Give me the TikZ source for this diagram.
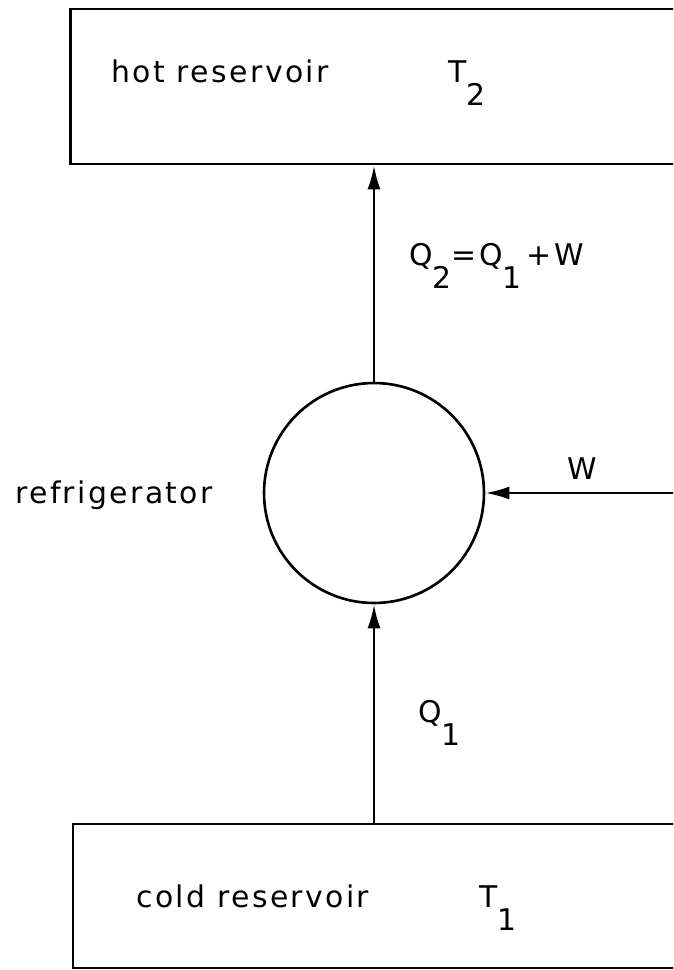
\documentclass[tikz,border=0pt]{standalone}
\usepackage{fontspec}
\setmainfont{DejaVu Sans}[LetterSpace=8]
\usetikzlibrary{arrows.meta,positioning}
% subscripts drawn full size, dropped below the line
\newcommand{\lowsub}[1]{\raisebox{-0.78em}{#1}}

\begin{document}
\begin{tikzpicture}[x=0.02cm, y=-0.02cm, line width=1.5pt,
    every node/.style={font=\fontsize{17}{20}\selectfont},
    reservoir/.style={draw, rectangle, minimum width=12.6cm, inner sep=0pt},
    flow/.style={-{Latex[length=4.8mm, width=2.6mm]}},
    tag/.style={anchor=base west, inner sep=0pt}]
  \path[use as bounding box] (0,0) rectangle (673,970);
  \clip (0,0) rectangle (673,970);
  % reservoirs run off the right edge of the sheet
  \node[reservoir, minimum height=3.1cm] (hot) at (385.5,86.5) {};
  \node[reservoir, minimum height=2.88cm] (cold) at (388,896) {};
  \node[draw, circle, minimum size=4.4cm, inner sep=0pt] (fridge) at (374,493) {};
  \coordinate (work) at (680,493);
  % heat and work flows
  \draw[flow] (fridge.north) -- (fridge.north |- hot.south);
  \draw[flow] (cold.north -| fridge.south) -- (fridge.south);
  \draw[flow] (work) -- (fridge.east);
  % labels
  \node[tag] (hotname) at (110,82) {hot reservoir};
  \node[tag] (hotT) at (447,82) {T\lowsub{2}};
  \node[tag] (q2) at (408,265) {Q\lowsub{2}=Q\lowsub{1}\,+W};
  \node[tag] (fridgename) at (14,503) {refrigerator};
  \node[tag] (wname) at (566,479) {W};
  \node[tag] (q1) at (417,722) {Q\lowsub{1}};
  \node[tag] (coldname) at (135,907) {cold reservoir};
  \node[tag] (coldT) at (478,907) {T\lowsub{1}};
\end{tikzpicture}
\end{document}
